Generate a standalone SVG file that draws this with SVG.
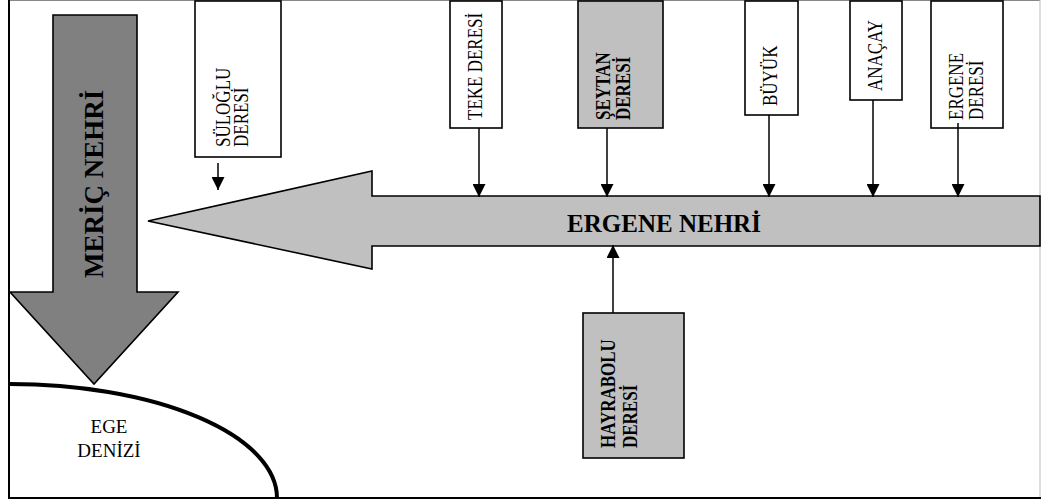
<svg xmlns="http://www.w3.org/2000/svg" width="1041" height="503" viewBox="0 0 1041 503">
<defs>
<style>
.box{stroke:#000;stroke-width:1.6}
.w{fill:#fff}
.g{fill:#c0c0c0}
.t{font-family:"Liberation Serif","Times New Roman",serif;font-size:17px;fill:#000}
.b{font-weight:bold}
.con line{stroke:#000;stroke-width:1.5;fill:none}
</style>
<marker id="ah" markerUnits="userSpaceOnUse" markerWidth="13" markerHeight="13" refX="13" refY="6.5" orient="auto">
<path d="M0,0 L13,6.5 L0,13 z" fill="#000"/>
</marker>
</defs>
<rect width="1041" height="503" fill="#fff"/>
<g id="frame">
<line x1="9" y1="0.5" x2="1040" y2="0.5" stroke="#888" stroke-width="1"/>
<line x1="1040" y1="0" x2="1040" y2="498" stroke="#bbb" stroke-width="1"/>
<line x1="9" y1="0" x2="9" y2="499" stroke="#000" stroke-width="2"/>
<line x1="8" y1="498" x2="1041" y2="498" stroke="#000" stroke-width="2"/>
</g>
<g id="ege-denizi">
<path d="M 10 384 A 267 114 0 0 1 277 498" fill="none" stroke="#000" stroke-width="4"/>
<text class="t" style="font-size:19px" text-anchor="middle" x="109" y="433">EGE<tspan x="109" dy="24">DENİZİ</tspan></text>
</g>
<g id="meric-nehri">
<polygon points="53,15 137,15 137,292 178,292 94,384 10,292 53,292" fill="#808080" stroke="#000" stroke-width="1.6"/>
<text class="t b" style="font-size:27px" transform="translate(103,278) rotate(-90)">MERİÇ NEHRİ</text>
</g>
<g id="ergene-nehri">
<polygon points="148,221 372,171 372,196 1040,196 1040,246 372,246 372,269" fill="#c0c0c0" stroke="#000" stroke-width="1.6"/>
<text class="t b" style="font-size:25px" text-anchor="middle" x="664" y="232">ERGENE NEHRİ</text>
</g>
<g id="suloglu-deresi">
<rect class="box w" x="195" y="1" width="86" height="156"/>
<text class="t" transform="translate(230,147) rotate(-90) scale(1,1.22)">SÜLOĞLU<tspan x="0" dy="14.8">DERESİ</tspan></text>
</g>
<g id="teke-deresi">
<rect class="box w" x="450" y="1" width="52" height="127"/>
<text class="t" transform="translate(482,120) rotate(-90) scale(1,1.22)">TEKE DERESİ</text>
</g>
<g id="seytan-deresi">
<rect class="box g" x="578" y="1" width="85" height="127"/>
<text class="t b" transform="translate(610,120) rotate(-90) scale(1,1.22)">ŞEYTAN<tspan x="0" dy="16.4">DERESİ</tspan></text>
</g>
<g id="buyuk">
<rect class="box w" x="745" y="1" width="53" height="114"/>
<text class="t" transform="translate(777,106) rotate(-90) scale(1,1.22)">BÜYÜK</text>
</g>
<g id="anacay">
<rect class="box w" x="850" y="1" width="52" height="99"/>
<text class="t" transform="translate(882,91) rotate(-90) scale(1,1.22)">ANAÇAY</text>
</g>
<g id="ergene-deresi">
<rect class="box w" x="931" y="1" width="72" height="127"/>
<text class="t" transform="translate(963,120) rotate(-90) scale(1,1.22)">ERGENE<tspan x="0" dy="16.4">DERESİ</tspan></text>
</g>
<g id="hayrabolu-deresi">
<rect class="box g" x="583" y="313" width="101" height="145"/>
<text class="t b" transform="translate(615,448) rotate(-90) scale(1,1.22)">HAYRABOLU<tspan x="0" dy="18">DERESİ</tspan></text>
</g>
<g id="connectors" class="con">
<line x1="218" y1="163" x2="218" y2="190" marker-end="url(#ah)"/>
<line x1="479" y1="128" x2="479" y2="197" marker-end="url(#ah)"/>
<line x1="607" y1="128" x2="607" y2="197" marker-end="url(#ah)"/>
<line x1="769" y1="115" x2="769" y2="197" marker-end="url(#ah)"/>
<line x1="873" y1="100" x2="873" y2="197" marker-end="url(#ah)"/>
<line x1="958" y1="123" x2="958" y2="197" marker-end="url(#ah)"/>
<line x1="613" y1="313" x2="613" y2="245" marker-end="url(#ah)"/>
</g>
</svg>
